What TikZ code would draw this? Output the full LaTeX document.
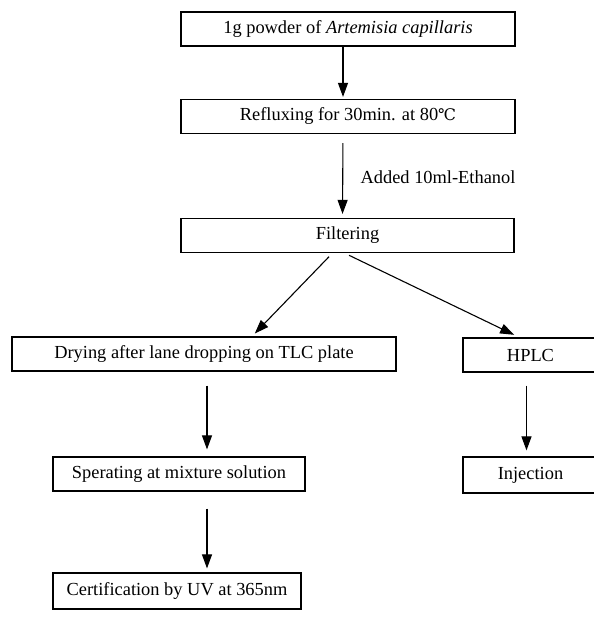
\documentclass[tikz,border=0pt]{standalone}
\usepackage{fontspec}
\setmainfont{Liberation Serif}
\newfontfamily\symfont{DejaVu Serif}
\usetikzlibrary{arrows.meta}

\begin{document}
\begin{tikzpicture}[
    x=1pt, y=-1pt,
    every node/.style={font=\fontsize{18.4}{21}\selectfont},
    stepbox/.style={draw, line width=1.2pt, minimum width=#1, minimum height=34pt,
                    inner sep=0pt, align=center},
    arrow/.style={-{Triangle[length=14pt, width=10pt]}, line width=1.1pt},
    note/.style={right, align=left}
]
\clip (0,0) rectangle (594,619);

% Top column
\node[stepbox=334pt] (powder) at (348,29) {1g powder of \textit{Artemisia capillaris}};
\node[stepbox=334pt] (reflux) at (348,116.5) {Refluxing for 30min. at 80{\symfont\fontsize{16}{20}\selectfont ℃}};
\node[stepbox=333pt] (filter) at (347.5,235.5) {Filtering};
\draw[arrow, shorten >=2pt] ([xshift=-5pt]powder.south) -- ([xshift=-5pt]reflux.north);
\draw[arrow, shorten <=9pt, shorten >=4pt] ([xshift=-5pt]reflux.south) -- ([xshift=-5pt]filter.north)
    node[note, pos=0.52, xshift=14pt] (ethanol) {Added 10ml-Ethanol};

% Left branch: TLC
\node[stepbox=384pt] (dry) at (204,354) {Drying after lane dropping on TLC plate};
\node[stepbox=252pt] (sep) at (179,474) {Sperating at mixture solution};
\node[stepbox=248pt, minimum height=36pt] (cert) at (177,591) {Certification by UV at 365nm};
\draw[arrow, shorten <=5pt, shorten >=4pt] ([xshift=-15pt]filter.south) -- ([xshift=48pt]dry.north);
\draw[arrow, shorten <=14pt, shorten >=7pt] ([xshift=3pt]dry.south) -- ([xshift=3pt]dry.south |- sep.north);
\draw[arrow, shorten <=17pt, shorten >=4pt] ([xshift=3pt]dry.south |- sep.south) -- ([xshift=3pt]dry.south |- cert.north);

% Right branch: HPLC
\node[stepbox=135pt] (hplc) at (530.5,355) {HPLC};
\node[stepbox=135pt, minimum height=36pt] (inj) at (530.5,475) {Injection};
\draw[arrow, shorten <=5pt, shorten >=6pt] ([xshift=-3pt]filter.south) -- ([xshift=-11pt]hplc.north);
\draw[arrow, shorten <=13pt, shorten >=6pt] ([xshift=-4pt]hplc.south) -- ([xshift=-4pt]inj.north);

\end{tikzpicture}
\end{document}
